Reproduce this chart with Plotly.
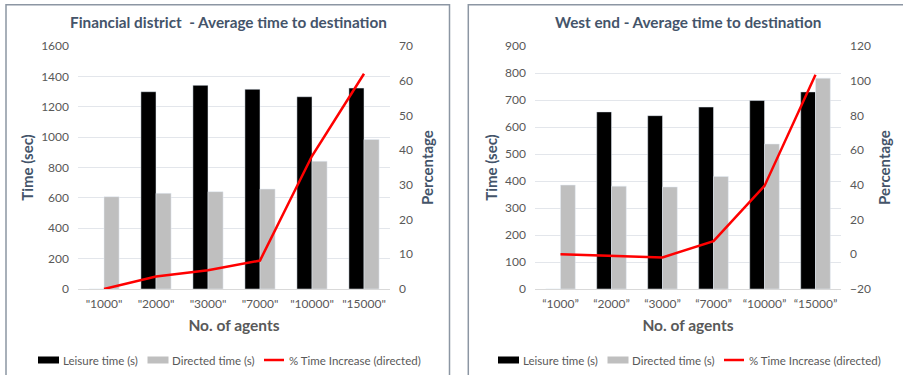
import plotly.graph_objects as go

# ---- data ----
fin_agents = ['"1000"', '"2000"', '"3000"', '"7000"', '"10000"', '"15000"']
fin_leisure = [0, 1299, 1341, 1315, 1266, 1323]
fin_directed = [608, 630, 641, 658, 841, 985]
fin_increase = [0, 3.6, 5.4, 8.2, 38.3, 62.0]

we_agents = ["\u201c1000\u201d", "\u201c2000\u201d", "\u201c3000\u201d", "\u201c7000\u201d", "\u201c10000\u201d", "\u201c15000\u201d"]
we_leisure = [0, 656, 642, 674, 698, 730]
we_directed = [385, 381, 378, 417, 537, 781]
we_increase = [0, -1.0, -1.8, 7.6, 39.4, 103.4]

series_names = ["Leisure time (s)", "Directed time (s)", "% Time Increase (directed)"]

# ---- styling ----
FONT = "Lato"
TICK_C = "#595959"
TITLE_C = "#44546A"
GRID_C = "#E3E6EB"
BLACK = "#000000"
GREY = "#BFBFBF"
RED = "#FF0000"
SERIES_COLORS = [BLACK, GREY, RED]

W, H = 903, 375
ML, MR, MT, MB = 78, 62, 46, 86
PW, PH = W - ML - MR, H - MT - MB


def px_x(x):
    return (x - ML) / PW


def px_y(y):
    return (H - MB - y) / PH


fig = go.Figure()

# left chart: Financial district
fig.add_bar(x=fin_agents, y=fin_leisure, name=series_names[0], marker_color=BLACK,
            xaxis="x", yaxis="y")
fig.add_bar(x=fin_agents, y=fin_directed, name=series_names[1], marker_color=GREY,
            xaxis="x", yaxis="y")
fig.add_scatter(x=fin_agents, y=fin_increase, name=series_names[2], mode="lines",
                line=dict(color=RED, width=2.5), xaxis="x", yaxis="y2")

# right chart: West end
fig.add_bar(x=we_agents, y=we_leisure, name=series_names[0], marker_color=BLACK,
            xaxis="x2", yaxis="y3")
fig.add_bar(x=we_agents, y=we_directed, name=series_names[1], marker_color=GREY,
            xaxis="x2", yaxis="y3")
fig.add_scatter(x=we_agents, y=we_increase, name=series_names[2], mode="lines",
                line=dict(color=RED, width=2.5), xaxis="x2", yaxis="y4")

tick_font = dict(family=FONT, size=12, color=TICK_C)
ytitle_font = dict(family=FONT, size=15, color=TITLE_C)
xtitle_font = dict(family=FONT, size=15.5, color=TICK_C)

common_x = dict(showgrid=False, showline=False, ticks="", tickfont=tick_font,
                ticklabelstandoff=6, fixedrange=True)
common_yl = dict(showgrid=True, gridcolor=GRID_C, gridwidth=1, zeroline=True,
                 zerolinecolor="#D9D9D9", zerolinewidth=1, showline=False, ticks="",
                 tickfont=tick_font, ticklabelstandoff=8)
common_yr = dict(showgrid=False, zeroline=False, showline=False, ticks="",
                 tickfont=tick_font, ticklabelstandoff=8)

annotations = [
    dict(text="<b>Financial district  - Average time to destination</b>", xref="paper", yref="paper",
         x=px_x(228), y=px_y(22), xanchor="center", yanchor="middle", showarrow=False,
         font=dict(family=FONT, size=15.3, color=TITLE_C)),
    dict(text="<b>West end - Average time to destination</b>", xref="paper", yref="paper",
         x=px_x(688), y=px_y(22), xanchor="center", yanchor="middle", showarrow=False,
         font=dict(family=FONT, size=15.3, color=TITLE_C)),
]

shapes = [
    dict(type="rect", xref="paper", yref="paper", x0=px_x(6), x1=px_x(449.5),
         y0=px_y(4.7), y1=px_y(390), line=dict(color="#8C96A3", width=1.5), layer="below"),
    dict(type="rect", xref="paper", yref="paper", x0=px_x(468.3), x1=px_x(915),
         y0=px_y(4.7), y1=px_y(390), line=dict(color="#8C96A3", width=1.5), layer="below"),
]

# legend row under each chart: key swatch followed by the series name
LEG_Y = 360
ENTRY_OFFSETS = [0, 109.5, 226]
for start in (38, 498):
    for name, color, off in zip(series_names, SERIES_COLORS, ENTRY_OFFSETS):
        x0 = start + off
        if color == RED:
            shapes.append(dict(type="line", xref="paper", yref="paper",
                               x0=px_x(x0), x1=px_x(x0 + 20), y0=px_y(LEG_Y), y1=px_y(LEG_Y),
                               line=dict(color=color, width=2.5)))
        else:
            shapes.append(dict(type="rect", xref="paper", yref="paper",
                               x0=px_x(x0), x1=px_x(x0 + 21), y0=px_y(LEG_Y - 3.5),
                               y1=px_y(LEG_Y + 3.5), line=dict(width=0), fillcolor=color))
        annotations.append(dict(text=name, xref="paper", yref="paper",
                                x=px_x(x0 + 22.5), y=px_y(LEG_Y), xanchor="left", yanchor="middle",
                                showarrow=False,
                                font=dict(family=FONT, size=11.5, color=TICK_C)))

fig.update_layout(
    width=W, height=H,
    margin=dict(l=ML, r=MR, t=MT, b=MB, autoexpand=False),
    paper_bgcolor="white", plot_bgcolor="white",
    barmode="group", bargap=0.42, bargroupgap=0,
    font=dict(family=FONT, color=TICK_C),
    showlegend=False,
    xaxis=dict(domain=[0, px_x(390)], anchor="y",
               title=dict(text="<b>No. of agents</b>", font=xtitle_font, standoff=10), **common_x),
    yaxis=dict(domain=[0, 1], anchor="x", range=[0, 1600], dtick=200,
               title=dict(text="<b>Time (sec)</b>", font=ytitle_font, standoff=3), **common_yl),
    yaxis2=dict(overlaying="y", side="right", anchor="x", range=[0, 70], dtick=10,
                title=dict(text="<b>Percentage</b>", font=ytitle_font, standoff=10), **common_yr),
    xaxis2=dict(domain=[px_x(535), 1], anchor="y3",
                title=dict(text="<b>No. of agents</b>", font=xtitle_font, standoff=10), **common_x),
    yaxis3=dict(domain=[0, 1], anchor="x2", range=[0, 900], dtick=100,
                title=dict(text="<b>Time (sec)</b>", font=ytitle_font, standoff=3), **common_yl),
    yaxis4=dict(overlaying="y3", side="right", anchor="x2", range=[-20, 120], dtick=20,
                title=dict(text="<b>Percentage</b>", font=ytitle_font, standoff=9), **common_yr),
    annotations=annotations,
    shapes=shapes,
)

fig.write_html("out.html")
